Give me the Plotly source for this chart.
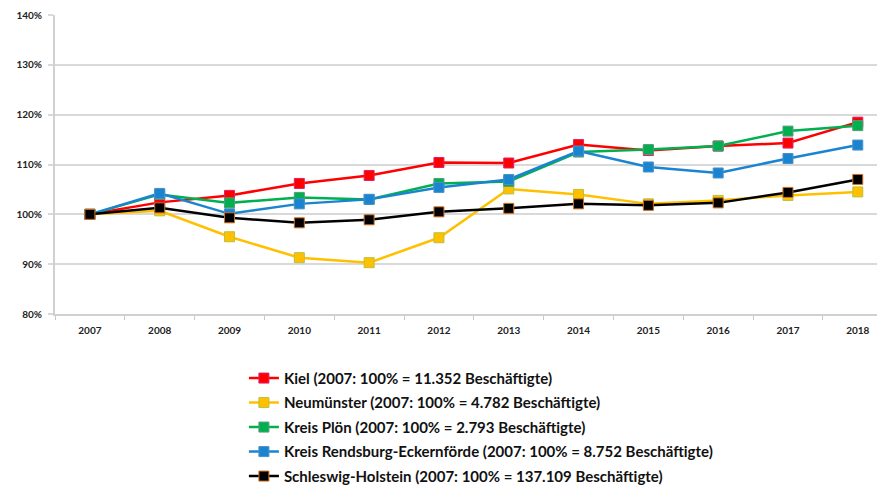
import plotly.graph_objects as go

years = ["2007", "2008", "2009", "2010", "2011", "2012", "2013", "2014", "2015", "2016", "2017", "2018"]

kiel = [100, 102.4, 103.8, 106.2, 107.8, 110.4, 110.3, 114.0, 112.8, 113.7, 114.3, 118.5]
neumuenster = [100, 100.7, 95.5, 91.3, 90.3, 95.3, 105.1, 104.0, 102.1, 102.8, 103.8, 104.5]
ploen = [100, 104.0, 102.3, 103.4, 103.0, 106.2, 106.6, 112.5, 113.0, 113.7, 116.7, 117.8]
rd_eck = [100, 104.2, 100.1, 102.1, 103.0, 105.4, 107.0, 112.7, 109.5, 108.3, 111.2, 113.9]
sh = [100, 101.3, 99.3, 98.3, 98.9, 100.5, 101.2, 102.1, 101.8, 102.3, 104.4, 107.0]

names = [
    "Kiel (2007: 100% = 11.352 Beschäftigte)",
    "Neumünster (2007: 100% = 4.782 Beschäftigte)",
    "Kreis Plön (2007: 100% = 2.793 Beschäftigte)",
    "Kreis Rendsburg-Eckernförde (2007: 100% = 8.752 Beschäftigte)",
    "Schleswig-Holstein (2007: 100% = 137.109 Beschäftigte)",
]
series = [kiel, neumuenster, ploen, rd_eck, sh]
colors = ["#ff0000", "#ffc000", "#00b050", "#1b84d0", "#000000"]
edge_colors = ["#e0206a", "#b8c040", "#5a9a7a", "#4a90c8", "#d07020"]

fig = go.Figure()

for i, (name, vals) in enumerate(zip(names, series)):
    fig.add_trace(go.Scatter(
        x=years,
        y=[v / 100 for v in vals],
        mode='lines+markers',
        name=name,
        legendgroup=str(i),
        line=dict(color=colors[i], width=2.5),
        marker=dict(symbol='square', size=10, color=colors[i],
                    line=dict(color=edge_colors[i], width=1)),
    ))

# the page body has an 8px margin, so the figure is shrunk to fit the window
fig.update_layout(
    width=877,
    height=478,
    margin=dict(l=47, r=0, t=7, b=172, autoexpand=False),
    plot_bgcolor='white',
    paper_bgcolor='white',
    font=dict(family='Lato, "Open Sans", sans-serif', color='#222222'),
    xaxis=dict(
        type='category',
        range=[-0.5, 11.39],
        tickson='boundaries',
        ticks='outside',
        ticklen=4,
        tickcolor='#c8c8c8',
        showgrid=False,
        showline=True,
        linecolor='#d0d0d0',
        linewidth=2,
        tickfont=dict(size=10, weight='bold'),
        ticklabelstandoff=6,
        automargin=False,
    ),
    yaxis=dict(
        range=[0.8, 1.4],
        dtick=0.1,
        tickformat='.0%',
        showgrid=True,
        gridcolor='#d9d9d9',
        gridwidth=2,
        zeroline=False,
        showline=True,
        linecolor='#d0d0d0',
        linewidth=2,
        ticks='outside',
        ticklen=5,
        tickwidth=2,
        tickcolor='#d9d9d9',
        tickfont=dict(size=10, weight='bold'),
        ticklabelstandoff=4,
        automargin=False,
    ),
    legend=dict(
        x=0.2276,
        y=-0.16,
        xanchor='left',
        yanchor='top',
        tracegroupgap=2,
        font=dict(size=15, weight='bold', color='#111111'),
        itemwidth=30,
    ),
)

fig.write_html("out.html")
